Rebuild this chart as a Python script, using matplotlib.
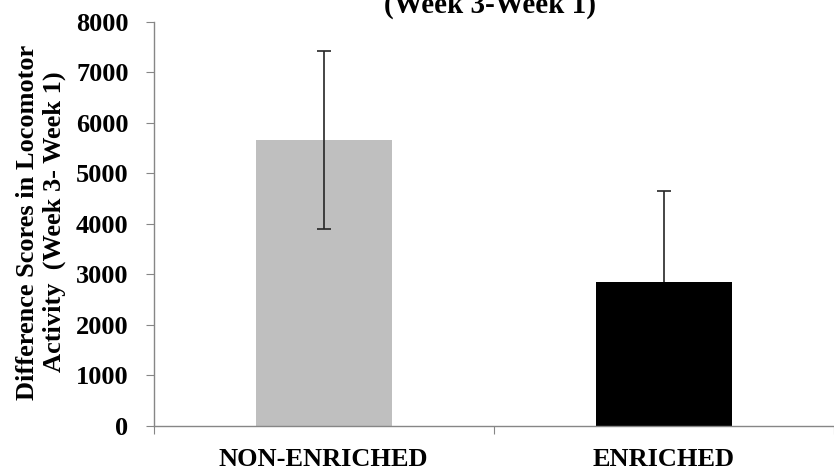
import matplotlib
matplotlib.use('Agg')
import matplotlib.pyplot as plt

groups = ['NON-ENRICHED', 'ENRICHED']
means = [5660, 2855]
errors = [1770, 1800]
colors = ['#bfbfbf', '#000000']

plt.rcParams['font.family'] = ['Liberation Serif', 'DejaVu Serif']
plt.rcParams['font.weight'] = 'bold'

fig = plt.figure(figsize=(8.34, 4.70), dpi=100)
ax = fig.add_axes([153.5 / 834, 44 / 470, (834 - 153.5) / 834, (426 - 21.7) / 470])

x = list(range(len(groups)))
ax.bar(x, means, width=0.4, color=colors, zorder=2)
# error bar over the grey bar is drawn in front, the one on the black bar sits behind it
for i in x:
    ax.errorbar(x[i], means[i], yerr=errors[i], fmt='none', ecolor='#262626',
                elinewidth=1.2, capsize=5, capthick=1.2,
                zorder=3 if i == 0 else 1)

ax.set_xlim(-0.5, 1.477)
ax.set_ylim(0, 8000)
ax.set_yticks(range(0, 8001, 1000))
ax.set_xticks([-0.5, 0.5, 1.5])
ax.set_xticklabels([])
ax.set_xticks(x, minor=True)
ax.set_xticklabels(groups, minor=True, fontsize=19, fontweight='bold')
ax.tick_params(axis='x', which='minor', length=0, pad=16)
ax.tick_params(axis='x', which='major', length=6, color='#868686', direction='out')
ax.tick_params(axis='y', length=6, color='#868686', direction='out', pad=12,
               labelsize=19)
for lab in ax.get_yticklabels():
    lab.set_fontweight('bold')

for side in ['top', 'right']:
    ax.spines[side].set_visible(False)
for side in ['left', 'bottom']:
    ax.spines[side].set_color('#868686')
    ax.spines[side].set_linewidth(1)

fig.text(41 / 834, (470 - 222) / 470,
         'Difference Scores in Locomotor\nActivity  (Week 3- Week 1)',
         rotation=90, ha='center', va='center', multialignment='center',
         fontsize=19, fontweight='bold', linespacing=1.25)

fig.text(490 / 834, (470 - 13) / 470, '(Week 3-Week 1)',
         ha='center', va='baseline', fontsize=21, fontweight='bold')

fig.savefig('out.png', dpi=100)
